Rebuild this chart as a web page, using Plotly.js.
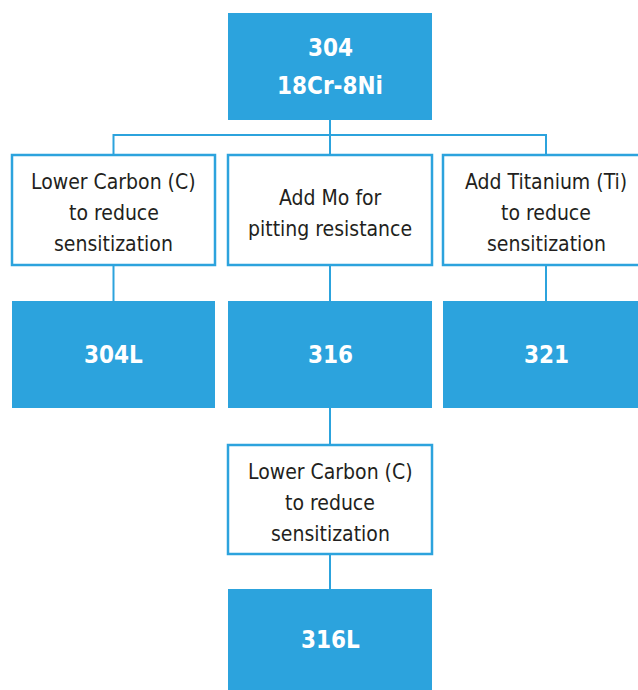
<!DOCTYPE html>
<html>
<head>
<meta charset="utf-8">
<script src="https://cdn.plot.ly/plotly-3.0.1.min.js"></script>
<style>html,body{margin:0;padding:0;background:#fff;}#chart{width:638px;height:690px;}</style>
</head>
<body>
<div id="chart"></div>
<script>
// ---- data ----
const nodeLabels = [
  "304<br>18Cr-8Ni",
  "Lower Carbon (C)<br>to reduce<br>sensitization",
  "Add Mo for<br>pitting resistance",
  "Add Titanium (Ti)<br>to reduce<br>sensitization",
  "304L",
  "316",
  "321",
  "Lower Carbon (C)<br>to reduce<br>sensitization",
  "316L"
];
const nodeTypes = ["grade","process","process","process","grade","grade","grade","process","grade"];
const edgeFrom = [0, 0, 0, 1, 2, 3, 5, 7];
const edgeTo   = [1, 2, 3, 4, 5, 6, 7, 8];

// ---- layout geometry (pixels in a 638x690 frame) ----
const cols = [[12, 215], [228, 432], [443, 649]];
const rows = [[13, 120], [155, 265], [301, 408], [445, 554], [589, 692]];
const nodeCell = [[1,0],[0,1],[1,1],[2,1],[0,2],[1,2],[2,2],[1,3],[1,4]]; // [col,row]

const BLUE = "#2CA3DD";
const TEXT = "#231F20";
const FONT = "'DejaVu Sans Condensed', 'Liberation Sans Narrow', sans-serif";

const shapes = [];
const annotations = [];
function box(i){
  const c = cols[nodeCell[i][0]], r = rows[nodeCell[i][1]];
  return {x0:c[0], x1:c[1], y0:r[0], y1:r[1]};
}
// connectors
for (let k = 0; k < edgeFrom.length; k++){
  const a = box(edgeFrom[k]), b = box(edgeTo[k]);
  const ax = (a.x0 + a.x1)/2, bx = (b.x0 + b.x1)/2;
  let path;
  if (Math.abs(ax - bx) < 1) {
    path = `M ${ax},${a.y1} L ${bx},${b.y0}`;
  } else {
    const mid = a.y1 + 15;
    path = `M ${ax},${a.y1} L ${ax},${mid} L ${bx},${mid} L ${bx},${b.y0}`;
  }
  shapes.push({type:"path", xref:"x", yref:"y", path:path, line:{color:BLUE, width:2}, layer:"below"});
}
// boxes + labels (one annotation per text line so line pitch can be set)
for (let i = 0; i < nodeLabels.length; i++){
  const b = box(i);
  const grade = nodeTypes[i] === "grade";
  shapes.push({
    type:"rect", xref:"x", yref:"y", x0:b.x0, x1:b.x1, y0:b.y0, y1:b.y1,
    fillcolor: grade ? BLUE : "#ffffff",
    line: grade ? {width:0} : {color:BLUE, width:2.5},
    layer:"below"
  });
  const lines = nodeLabels[i].split("<br>");
  const pitch = grade ? 38 : 31;
  const yc = (nodeCell[i][1] === 4 ? (b.y0 + 690)/2 : (b.y0 + b.y1)/2) + (grade ? 0 : 3);
  lines.forEach((t, j) => {
    annotations.push({
      xref:"x", yref:"y", x:(b.x0 + b.x1)/2, y: yc + (j - (lines.length-1)/2)*pitch,
      text: grade ? "<b>"+t+"</b>" : t,
      showarrow:false, xanchor:"center", yanchor:"middle", align:"center",
      font: grade ? {family:FONT, size:24, color:"#ffffff"}
                  : {family:FONT, size:21, color:TEXT}
    });
  });
}

const layout = {
  width:638, height:690,
  margin:{l:0, r:0, t:0, b:0},
  paper_bgcolor:"#ffffff", plot_bgcolor:"#ffffff",
  xaxis:{range:[0,638], visible:false, fixedrange:true},
  yaxis:{range:[690,0], visible:false, fixedrange:true},
  shapes:shapes, annotations:annotations, showlegend:false
};
Plotly.newPlot("chart", [{x:[], y:[], type:"scatter", hoverinfo:"skip"}], layout, {displayModeBar:false, staticPlot:true});
</script>
</body>
</html>
